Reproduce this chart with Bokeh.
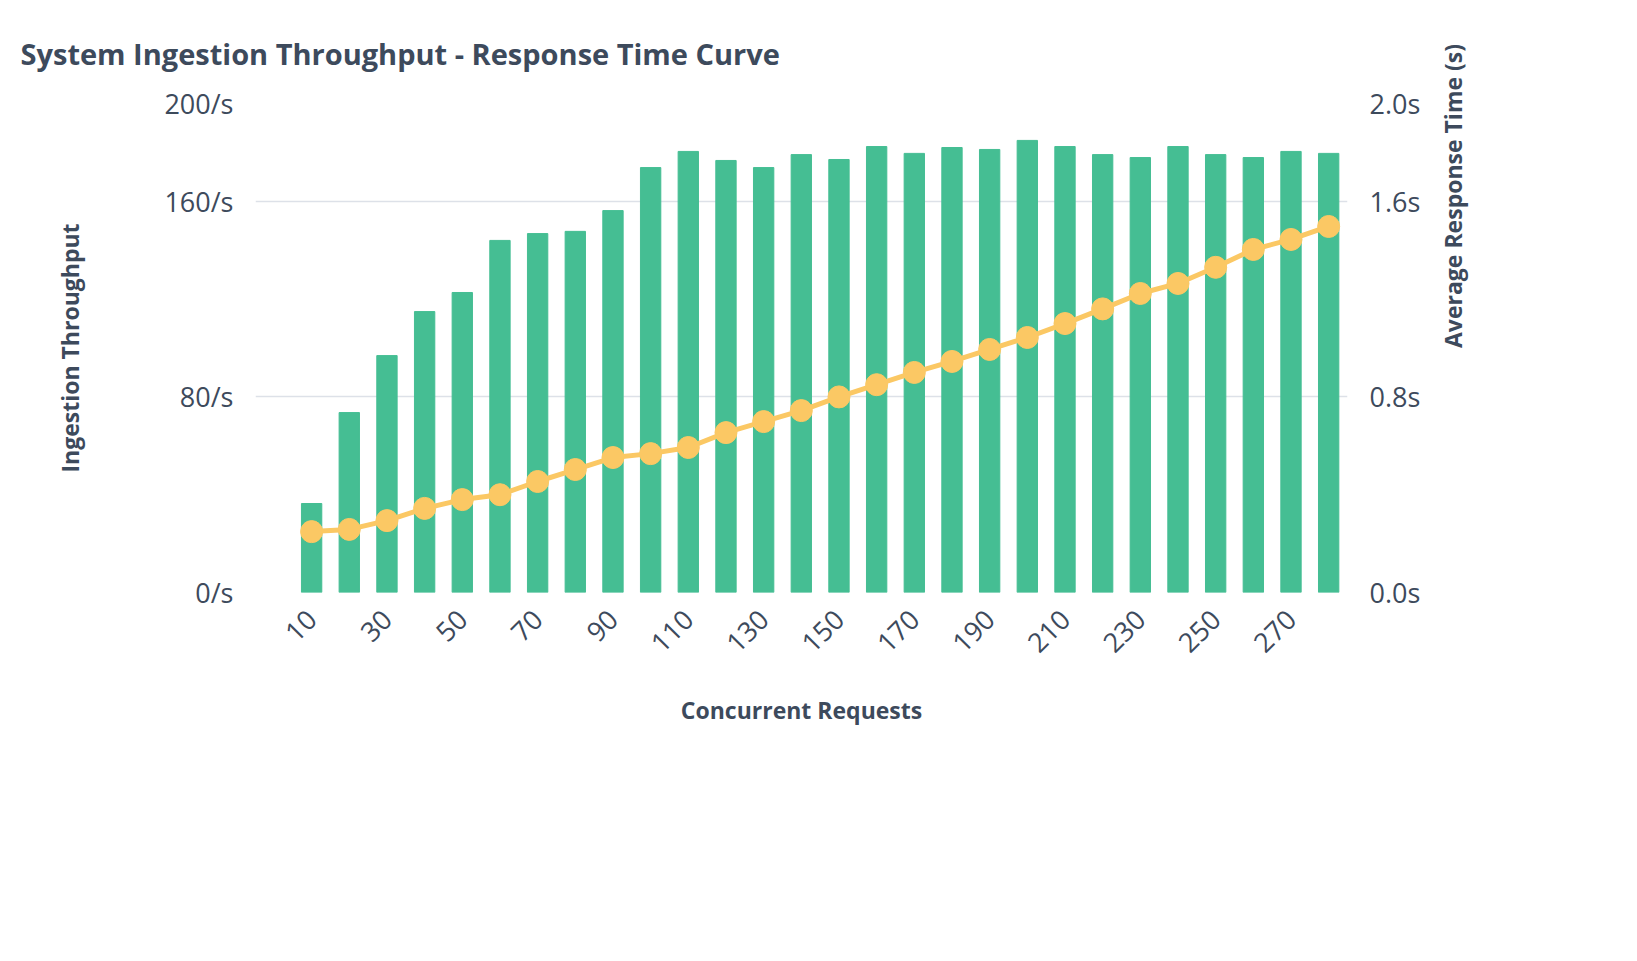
from bokeh.plotting import figure
from bokeh.models import Range1d, LinearAxis, FixedTicker, Legend, LegendItem, ColumnDataSource, CustomJSTickFormatter
from bokeh.embed import file_html
from bokeh.resources import INLINE
import math

requests = list(range(10, 290, 10))
throughput = [36.4, 73.6, 96.9, 114.9, 122.7, 144.0, 146.8, 147.7, 156.2, 173.8,
              180.4, 176.7, 173.8, 179.1, 177.1, 182.4, 179.6, 182.0, 181.2, 184.9,
              182.4, 179.1, 177.9, 182.4, 179.1, 177.9, 180.4, 179.6]
response_time = [0.249, 0.258, 0.294, 0.344, 0.38, 0.40, 0.454, 0.503, 0.552, 0.568,
                 0.593, 0.654, 0.699, 0.744, 0.80, 0.85, 0.90, 0.945, 0.994, 1.043,
                 1.10, 1.16, 1.223, 1.264, 1.33, 1.403, 1.444, 1.497]
x_ticks = list(range(10, 290, 20))

GREEN = "#45BE93"
YELLOW = "#FBC864"
TEXT = "#3D4A5C"
FONT = "Open Sans"

src = ColumnDataSource(dict(x=requests, tp=throughput, rt=response_time))

p = figure(x_range=Range1d(-4.9, 285), y_range=Range1d(0, 200),
           frame_width=1092, frame_height=489,
           output_backend="svg", toolbar_location=None,
           title="System Ingestion Throughput - Response Time Curve",
           min_border_left=255, min_border_right=270, min_border_top=20, min_border_bottom=10)
p.title.text_font = FONT
p.title.text_font_size = "29px"
p.title.text_font_style = "bold"
p.title.text_color = TEXT
p.title.standoff = 62
p.title.offset = -235
p.outline_line_color = None
p.xgrid.grid_line_color = None
p.ygrid.grid_line_color = "#DDE1E8"
p.ygrid.grid_line_width = 1.5
p.ygrid.ticker = FixedTicker(ticks=[0, 80, 160, 200])

p.extra_y_ranges = {"rt": Range1d(0, 2.0)}

p.vbar(x="x", top="tp", width=5.4, color=GREEN, source=src)
p.line(x="x", y="rt", y_range_name="rt", line_color=YELLOW, line_width=5, source=src)
p.scatter(x="x", y="rt", y_range_name="rt", size=22, color=YELLOW, source=src)

ax = p.yaxis[0]
ax.ticker = FixedTicker(ticks=[0, 80, 160, 200])
ax.formatter = CustomJSTickFormatter(code="return tick + '/s';")
ax.axis_label = "Ingestion Throughput"
ax.axis_label_standoff = 75

right = LinearAxis(y_range_name="rt", ticker=FixedTicker(ticks=[0, 0.8, 1.6, 2.0]),
                   formatter=CustomJSTickFormatter(code="return tick.toFixed(1) + 's';"),
                   axis_label="Average Response Time (s)")
right.axis_label_orientation = math.pi / 2
right.axis_label_standoff = 30
p.add_layout(right, "right")

xa = p.xaxis[0]
xa.ticker = FixedTicker(ticks=x_ticks)
xa.axis_label = "Concurrent Requests"
xa.major_label_orientation = math.pi / 4
xa.axis_label_standoff = 30

for a in [ax, right, xa]:
    a.axis_line_color = None
    a.major_tick_line_color = None
    a.minor_tick_line_color = None
    a.major_label_text_font = FONT
    a.major_label_text_font_size = "27px"
    a.major_label_text_color = TEXT
    a.axis_label_text_font = FONT
    a.axis_label_text_font_size = "23px"
    a.axis_label_text_font_style = "bold"
    a.axis_label_text_color = TEXT
    a.major_label_standoff = 16

# legend markers, drawn off-range so they only show in the legend
leg_g = p.scatter(x=[-1000], y=[-1000], size=26, color=GREEN)
leg_y = p.scatter(x=[-1000], y=[-1000], size=26, color=YELLOW)
legend = Legend(items=[LegendItem(label="Ingestion Throughput", renderers=[leg_g]),
                       LegendItem(label="Average Response Time (s)", renderers=[leg_y])],
                orientation="horizontal", location="center", border_line_color=None,
                label_text_font=FONT, label_text_font_size="23px", label_text_font_style="bold",
                label_text_color=TEXT, spacing=50, glyph_width=30, glyph_height=30,
                margin=40)
p.add_layout(legend, "below")

open("out.html", "w").write(file_html(p, INLINE))
